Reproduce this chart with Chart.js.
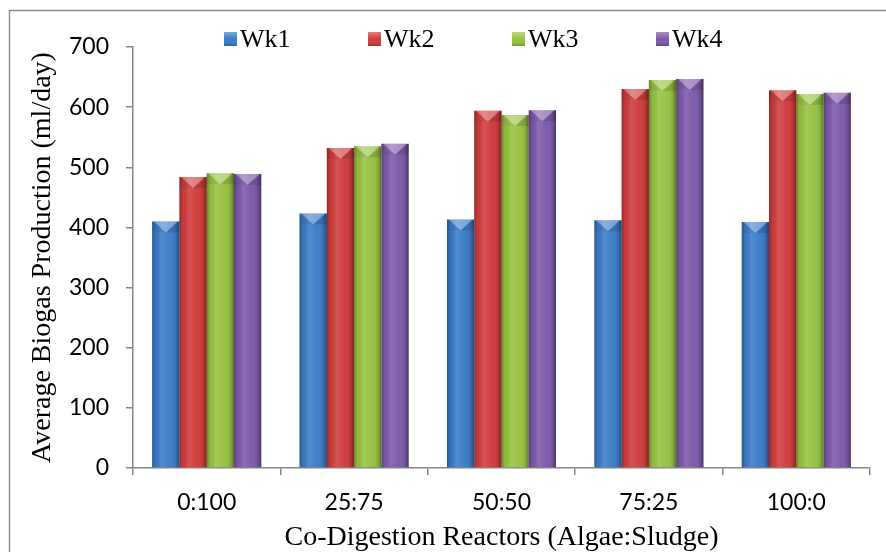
<!DOCTYPE html>
<html>
<head>
<meta charset="utf-8">
<script src="https://cdn.jsdelivr.net/npm/chart.js@4.4.0/dist/chart.umd.min.js"></script>
<style>
  html, body { margin: 0; padding: 0; background: #fff; }
  #wrap { width: 886px; height: 552px; position: relative; }
</style>
</head>
<body>
<div id="wrap"><canvas id="myChart" width="886" height="552"></canvas></div>
<script>
// reactors (algae:sludge ratio)
const reactors = ["0:100", "25:75", "50:50", "75:25", "100:0"];
const weekNames = ["Wk1", "Wk2", "Wk3", "Wk4"];

// average biogas production, ml/day
const wk1 = [410, 423, 413, 412, 409];
const wk2 = [484, 532, 594, 630, 628];
const wk3 = [490, 535, 587, 645, 622];
const wk4 = [489, 539, 595, 647, 624];

const yTicks = [0, 100, 200, 300, 400, 500, 600, 700];

const colors = ["#3b7bc8", "#d03c3c", "#97c241", "#7d59a9"];
const axisGrey = "#868686";

// border of the whole picture (only left and top are in frame)
const frame = {
    id: "frame",
    afterDraw: function(chart){
        const ctx = chart.ctx;
        ctx.save();
        ctx.strokeStyle = "#8c8c8c";
        ctx.lineWidth = 1.5;
        ctx.strokeRect(9.5, 10.5, 2000, 2000);
        ctx.restore();
    }
};

// glossy shading + bevelled top on every bar
const bevel = {
    id: "bevel",
    afterDatasetDraw: function(chart, args){
        const ctx = chart.ctx;
        const meta = args.meta;
        for (const bar of meta.data) {
            const w = bar.width;
            const x0 = bar.x - w / 2, x1 = bar.x + w / 2;
            const top = bar.y, bot = bar.base;
            ctx.save();
            const g = ctx.createLinearGradient(x0, 0, x1, 0);
            g.addColorStop(0, "rgba(0,0,0,0.30)");
            g.addColorStop(0.12, "rgba(0,0,0,0.05)");
            g.addColorStop(0.35, "rgba(255,255,255,0.12)");
            g.addColorStop(0.65, "rgba(255,255,255,0.02)");
            g.addColorStop(0.88, "rgba(0,0,0,0.12)");
            g.addColorStop(1, "rgba(0,0,0,0.40)");
            ctx.fillStyle = g;
            ctx.fillRect(x0, top, w, bot - top);
            const bh = Math.min(11, (bot - top) / 2);
            // light V in the middle of the top bevel
            ctx.fillStyle = "rgba(255,255,255,0.32)";
            ctx.beginPath();
            ctx.moveTo(x0 + 2, top);
            ctx.lineTo(x1 - 2, top);
            ctx.lineTo(bar.x, top + bh);
            ctx.closePath();
            ctx.fill();
            ctx.fillStyle = "rgba(0,0,0,0.12)";
            ctx.beginPath();
            ctx.moveTo(x1, top);
            ctx.lineTo(x1, top + bh);
            ctx.lineTo(bar.x, top + bh);
            ctx.closePath();
            ctx.fill();
            ctx.fillStyle = "rgba(0,0,0,0.05)";
            ctx.beginPath();
            ctx.moveTo(x0, top);
            ctx.lineTo(x0, top + bh);
            ctx.lineTo(bar.x, top + bh);
            ctx.closePath();
            ctx.fill();
            ctx.restore();
        }
    }
};

// legend sitting inside the plot, across the top
const topLegend = {
    id: "topLegend",
    afterDraw: function(chart){
        const ctx = chart.ctx;
        ctx.save();
        ctx.font = "26px 'Liberation Serif', serif";
        ctx.textBaseline = "middle";
        ctx.textAlign = "left";
        chart.data.datasets.forEach(function(ds, i){
            const x = 224 + i * 144, y = 39;
            const g = ctx.createLinearGradient(0, y - 7, 0, y + 7);
            g.addColorStop(0, "rgba(255,255,255,0.35)");
            g.addColorStop(0.5, "rgba(255,255,255,0)");
            g.addColorStop(1, "rgba(0,0,0,0.2)");
            ctx.fillStyle = ds.backgroundColor;
            ctx.fillRect(x, y - 7, 13, 14);
            ctx.fillStyle = g;
            ctx.fillRect(x, y - 7, 13, 14);
            ctx.fillStyle = "#000";
            ctx.fillText(ds.label, x + 16, y + 1);
        });
        ctx.restore();
    }
};

const seriesValues = [wk1, wk2, wk3, wk4];
const datasets = weekNames.map(function(name, i){
    return {
        label: name,
        data: seriesValues[i],
        backgroundColor: colors[i],
        borderWidth: 0,
        categoryPercentage: 0.74,
        barPercentage: 1.0
    };
});

const tickFont = { family: "Lato", size: 23 };
const titleFont = { family: "'Liberation Serif'", size: 28, lineHeight: 1 };

new Chart(document.getElementById("myChart"), {
    type: "bar",
    data: { labels: reactors, datasets: datasets },
    options: {
        responsive: false,
        animation: false,
        layout: { padding: { left: 29, top: 47, right: 16, bottom: 0 } },
        plugins: { legend: { display: false }, tooltip: { enabled: false } },
        scales: {
            x: {
                grid: { display: true, drawOnChartArea: false, offset: true, color: axisGrey, tickLength: 7, lineWidth: 1.5 },
                border: { display: true, color: axisGrey, width: 1.5 },
                ticks: { color: "#000", font: tickFont, padding: 14 },
                title: { display: true, text: "Co-Digestion Reactors (Algae:Sludge)", color: "#000", font: titleFont, padding: { top: 0, bottom: 0 } },
                afterFit: function(s){ s.height = 84; }
            },
            y: {
                min: 0,
                max: 700,
                afterBuildTicks: function(s){ s.ticks = yTicks.map(function(v){ return { value: v }; }); },
                grid: { display: true, drawOnChartArea: false, color: axisGrey, tickLength: 7, lineWidth: 1.5 },
                border: { display: true, color: axisGrey, width: 1.5 },
                ticks: { color: "#000", font: tickFont, padding: 17 },
                title: { display: true, text: "Average Biogas Production (ml/day)", color: "#000", font: titleFont, padding: { top: 0, bottom: 0 } },
                afterFit: function(s){ s.width = 104; }
            }
        }
    },
    plugins: [bevel, topLegend, frame]
});
</script>
</body>
</html>
